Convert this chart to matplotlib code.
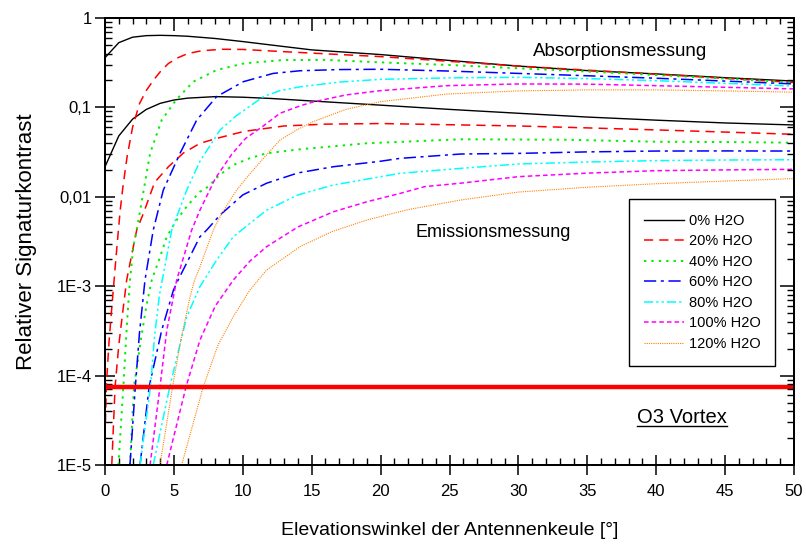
import matplotlib
matplotlib.use("Agg")
import matplotlib.pyplot as plt
from matplotlib.ticker import FixedLocator, FixedFormatter, MultipleLocator, LogLocator, NullFormatter
from matplotlib.lines import Line2D

plt.rcParams['font.family'] = ['Liberation Sans', 'DejaVu Sans']

# ---- data: relative signature contrast vs. elevation angle ----
labels = ["0% H2O", "20% H2O", "40% H2O", "60% H2O", "80% H2O", "100% H2O", "120% H2O"]

# absorption measurement
x_abs_000 = [0, 1, 2, 3, 4, 5, 6, 8, 10, 12, 15, 20, 25, 30, 35, 40, 45, 50]
v_abs_000 = [0.36, 0.53, 0.61, 0.635, 0.64, 0.635, 0.625, 0.59, 0.545, 0.50, 0.44, 0.39, 0.335,
             0.29, 0.258, 0.237, 0.215, 0.197]
x_abs_020 = [0, 0.1, 0.3, 0.5, 0.7, 0.9, 1.1, 1.3, 1.6, 2.0, 2.5, 3.0, 3.5, 4.0, 4.6, 5.3, 6.0, 7.0,
             8.5, 10, 13, 20, 30, 40, 50]
v_abs_020 = [2e-5, 8e-5, 2.5e-4, 6e-4, 1.4e-3, 3.2e-3, 7e-3, 0.013, 0.028, 0.06, 0.11, 0.155, 0.2,
             0.25, 0.31, 0.36, 0.40, 0.43, 0.447, 0.445, 0.42, 0.37, 0.29, 0.235, 0.19]
x_abs_040 = [0.97, 1.33, 1.6, 1.81, 2.06, 2.3, 2.85, 3.27, 4.11, 5.15, 6.41, 8.1, 10.1, 13, 16, 20,
             25, 30, 35, 40, 45, 50]
v_abs_040 = [1e-5, 7.5e-5, 4e-4, 1.17e-3, 2.8e-3, 4.25e-3, 0.013, 0.0306, 0.072, 0.121, 0.194,
             0.262, 0.311, 0.339, 0.34, 0.319, 0.298, 0.274, 0.252, 0.23, 0.21, 0.19]
x_abs_060 = [1.81, 2.2, 2.5, 2.9, 3.5, 4.23, 5.44, 6.65, 8.1, 10.04, 12.2, 14.15, 17, 20, 25, 30,
             35, 40, 45, 50]
v_abs_060 = [1e-5, 7.5e-5, 3e-4, 1.17e-3, 4.25e-3, 0.0119, 0.0306, 0.072, 0.132, 0.194, 0.24,
             0.257, 0.265, 0.267, 0.255, 0.24, 0.226, 0.212, 0.197, 0.183]
x_abs_080 = [2.54, 3.3, 3.6, 3.95, 4.84, 5.93, 6.89, 8.35, 9.5, 11.49, 12.7, 14.15, 17, 20, 25, 30,
             35, 40, 45, 50]
v_abs_080 = [1e-5, 7.5e-5, 2.8e-4, 8e-4, 4.25e-3, 0.0119, 0.025, 0.0559, 0.08, 0.132, 0.154, 0.17,
             0.192, 0.206, 0.214, 0.217, 0.21, 0.199, 0.186, 0.173]
x_abs_100 = [3.27, 3.99, 4.48, 5.2, 6.29, 6.89, 8.0, 9.2, 10.2, 11.49, 12.7, 14.15, 15.1, 17.5, 20,
             24.8, 30, 35, 40, 45, 50]
v_abs_100 = [1e-5, 7.5e-5, 3.2e-4, 1.17e-3, 4.25e-3, 7.1e-3, 0.016, 0.03, 0.045, 0.062, 0.086,
             0.104, 0.115, 0.138, 0.154, 0.175, 0.183, 0.182, 0.175, 0.168, 0.161]
x_abs_120 = [3.99, 4.9, 5.5, 6.17, 6.5, 6.89, 7.86, 8.47, 9.55, 10.5, 11.5, 12.7, 13.9, 15.1, 17.5,
             20, 24.8, 30, 35, 40, 45, 50]
v_abs_120 = [1e-5, 7.5e-5, 2.5e-4, 7.6e-4, 1.17e-3, 1.65e-3, 4.25e-3, 6.5e-3, 0.0119, 0.018, 0.027,
             0.0432, 0.0559, 0.0692, 0.0953, 0.116, 0.141, 0.153, 0.157, 0.157, 0.153, 0.148]

# emission measurement
x_em_000 = [0, 1, 2, 3, 4, 5, 6, 8, 10, 12, 15, 20, 25, 30, 35, 40, 45, 50]
v_em_000 = [0.0217, 0.048, 0.074, 0.095, 0.111, 0.121, 0.127, 0.132, 0.130, 0.126, 0.118, 0.106,
            0.095, 0.086, 0.078, 0.072, 0.067, 0.0636]
x_em_020 = [0.49, 0.73, 1.0, 1.2, 1.57, 2.06, 2.3, 2.78, 3.6, 4.6, 5.7, 6.9, 8.1, 10.1, 13, 16, 20,
            25, 30, 35, 40, 45, 50]
v_em_020 = [1e-5, 7.5e-5, 2.2e-4, 4e-4, 1.17e-3, 2.8e-3, 4.25e-3, 6.5e-3, 0.0145, 0.0217, 0.031,
            0.0397, 0.045, 0.054, 0.062, 0.065, 0.066, 0.064, 0.062, 0.059, 0.056, 0.053, 0.050]
x_em_040 = [1.81, 2.1, 2.6, 3.0, 3.39, 4.0, 4.48, 5.2, 5.93, 6.89, 7.5, 8.3, 9.31, 10.5, 11.7,
            14.15, 19, 25.8, 33.5, 40, 45, 50]
v_em_040 = [1e-5, 7.5e-5, 2.5e-4, 6e-4, 1.17e-3, 2.14e-3, 3.58e-3, 5.5e-3, 7.8e-3, 0.0114, 0.013,
            0.0175, 0.0227, 0.027, 0.0306, 0.034, 0.0397, 0.044, 0.0435, 0.0413, 0.041, 0.0403]
x_em_060 = [2.54, 3.2, 4.11, 4.96, 5.3, 6.89, 7.38, 8.35, 10, 11.73, 14, 16.57, 20, 21.4, 25.8, 30,
            35, 40, 45, 50]
v_em_060 = [1e-5, 7.5e-5, 3.2e-4, 9e-4, 1.17e-3, 3.58e-3, 4.25e-3, 6.26e-3, 0.0105, 0.0142, 0.0185,
            0.0217, 0.025, 0.0269, 0.0301, 0.0306, 0.0318, 0.0325, 0.0326, 0.0325]
x_em_080 = [3.5, 4.7, 5.93, 6.89, 8.1, 9.31, 11.73, 14, 16.57, 21.4, 25.8, 30, 35, 40, 45, 50]
v_em_080 = [1e-5, 7.5e-5, 4.56e-4, 9.9e-4, 1.96e-3, 3.58e-3, 7.1e-3, 0.0105, 0.01355, 0.0183,
            0.0208, 0.0233, 0.0245, 0.0254, 0.0258, 0.026]
x_em_100 = [4.48, 5.88, 6.89, 8, 9.31, 10.5, 11.73, 14, 16.57, 19, 21.4, 23.2, 25.8, 30, 35, 40, 45,
            50]
v_em_100 = [1e-5, 7.5e-5, 2.5e-4, 6e-4, 1.17e-3, 1.9e-3, 2.77e-3, 4.6e-3, 6.8e-3, 8.8e-3, 0.0109,
            0.013, 0.0142, 0.0168, 0.0184, 0.0196, 0.02, 0.0203]
x_em_120 = [5.56, 7.13, 8.2, 9.31, 10.5, 11.73, 14.15, 16.5, 19, 22, 25.8, 30, 35, 40, 45, 50]
v_em_120 = [1e-5, 7.5e-5, 2.2e-4, 4.56e-4, 9e-4, 1.52e-3, 2.77e-3, 4.1e-3, 5.5e-3, 7.2e-3, 9.2e-3,
            0.0113, 0.0128, 0.014, 0.015, 0.016]

# detection threshold of the O3 vortex signal
o3_vortex_level = 7.5e-5

x_ticks = [0, 5, 10, 15, 20, 25, 30, 35, 40, 45, 50]
y_ticks = [1e-5, 1e-4, 1e-3, 1e-2, 1e-1, 1]
y_tick_labels = ["1E-5", "1E-4", "1E-3", "0,01", "0,1", "1"]

# ---- styles ----
colors = ["black", "#ff0000", "#00ee00", "#0000ff", "#00ffff", "#ff00ff", "#ff8000"]
styles = ["-", (0, (6, 4)), (0, (1.2, 2.6)), (0, (8, 3, 2, 3)), (0, (6, 2, 1.5, 2, 1.5, 2)),
          (0, (3, 2)), (0, (1, 1))]
widths = [1.0, 1.1, 1.4, 1.1, 1.1, 1.1, 0.8]

absorption = [(x_abs_000, v_abs_000), (x_abs_020, v_abs_020), (x_abs_040, v_abs_040),
              (x_abs_060, v_abs_060), (x_abs_080, v_abs_080), (x_abs_100, v_abs_100),
              (x_abs_120, v_abs_120)]
emission = [(x_em_000, v_em_000), (x_em_020, v_em_020), (x_em_040, v_em_040),
            (x_em_060, v_em_060), (x_em_080, v_em_080), (x_em_100, v_em_100),
            (x_em_120, v_em_120)]

fig = plt.figure(figsize=(8.06, 5.44), dpi=100)
ax = fig.add_axes([0.1303, 0.1452, 0.8548, 0.8217])
ax.set_yscale('log')

handles = []
for i in range(len(labels)):
    xa, va = absorption[i]
    xe, ve = emission[i]
    h, = ax.plot(xa, va, color=colors[i], linestyle=styles[i], lw=widths[i], label=labels[i])
    ax.plot(xe, ve, color=colors[i], linestyle=styles[i], lw=widths[i])
    handles.append(h)

ax.axhline(o3_vortex_level, color="#ff0000", lw=3.2, zorder=5)

ax.set_xlim(0, 50)
ax.set_ylim(1e-5, 1)

# bottom / left ticks
ax.xaxis.set_major_locator(FixedLocator(x_ticks))
ax.xaxis.set_minor_locator(MultipleLocator(1))
ax.yaxis.set_major_locator(FixedLocator(y_ticks))
ax.yaxis.set_major_formatter(FixedFormatter(y_tick_labels))
ax.yaxis.set_minor_locator(LogLocator(base=10, subs=range(2, 10)))
ax.yaxis.set_minor_formatter(NullFormatter())
ax.tick_params(which='major', direction='inout', length=15, width=1.1, labelsize=12, pad=2)
ax.tick_params(which='minor', direction='in', length=5, width=1.0)
ax.tick_params(axis='x', which='major', pad=6)

# top / right ticks pointing inward
axt = ax.twiny()
axt.set_xlim(0, 50)
axt.xaxis.set_major_locator(FixedLocator(x_ticks))
axt.xaxis.set_minor_locator(MultipleLocator(1))
axt.tick_params(which='major', direction='in', length=9, width=1.1, labeltop=False)
axt.tick_params(which='minor', direction='in', length=4.5, width=1.0)

axr = ax.twinx()
axr.set_yscale('log')
axr.set_ylim(1e-5, 1)
axr.yaxis.set_major_locator(FixedLocator(y_ticks))
axr.yaxis.set_minor_locator(LogLocator(base=10, subs=range(2, 10)))
axr.yaxis.set_minor_formatter(NullFormatter())
axr.tick_params(which='major', direction='in', length=10, width=1.1, labelright=False)
axr.tick_params(which='minor', direction='in', length=5, width=1.0)

for a in (ax, axt, axr):
    for s in a.spines.values():
        s.set_linewidth(1.3)

ax.set_xlabel("Elevationswinkel der Antennenkeule [°]", fontsize=14, labelpad=17)
ax.set_ylabel("Relativer Signaturkontrast", fontsize=16, labelpad=14)

ax.text(37.4, 0.42, "Absorptionsmessung", fontsize=13.5, ha='center', va='center')
ax.text(28.2, 0.004, "Emissionsmessung", fontsize=13, ha='center', va='center')
o3 = ax.text(41.9, 3.4e-5, "O3 Vortex", fontsize=14.5, ha='center', va='center')

leg = axr.legend(handles=handles, loc='upper left', bbox_to_anchor=(0.7605, 0.595),
                 fontsize=10.5, frameon=True, fancybox=False, framealpha=1, edgecolor='black',
                 handlelength=2.75, handletextpad=0.35, labelspacing=0.45, borderpad=1.0,
                 borderaxespad=0)
leg.get_frame().set_linewidth(1.0)

# underline beneath the O3 Vortex label
fig.canvas.draw()
bb = o3.get_window_extent().transformed(fig.transFigure.inverted())
fig.add_artist(Line2D([bb.x0, bb.x1], [bb.y0 + 0.001, bb.y0 + 0.001], color='black', lw=1.0,
                      transform=fig.transFigure))

fig.savefig("out.png", dpi=100)
